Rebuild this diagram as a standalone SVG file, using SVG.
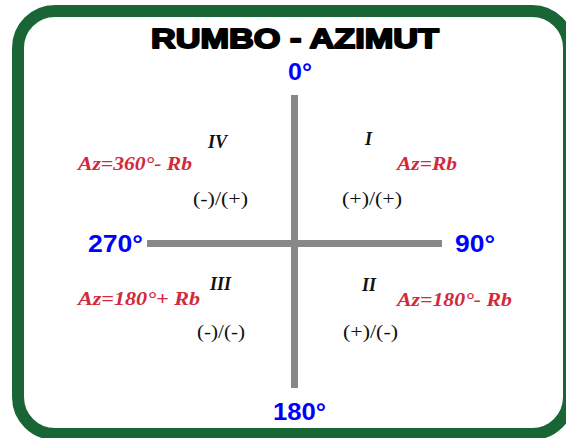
<svg xmlns="http://www.w3.org/2000/svg" width="566" height="438" viewBox="0 0 566 438">
<style>
.title{font-family:"Liberation Sans",Arial,sans-serif;font-weight:bold;font-size:28px;fill:#000;stroke:#000;stroke-width:1.9px;stroke-linejoin:round}
.deg{font-family:"Liberation Sans",Arial,sans-serif;font-weight:bold;font-size:24px;fill:#0000ff}
.az{font-family:"Liberation Serif","Times New Roman",serif;font-weight:bold;font-style:italic;font-size:18px;fill:#d22a3b}
.num{font-family:"Liberation Serif","Times New Roman",serif;font-weight:bold;font-style:italic;font-size:18px;fill:#111}
.sgn{font-family:"Liberation Serif","Times New Roman",serif;font-size:19px;fill:#111}
.axis{stroke:#888;stroke-width:7;fill:none}
</style>
<rect x="0" y="0" width="566" height="438" fill="#fff"/>
<rect x="18" y="11" width="551" height="423" rx="37" ry="37" fill="#fff" stroke="#1a6535" stroke-width="12"/>
<text class="title" x="295" y="48" text-anchor="middle" textLength="288" lengthAdjust="spacingAndGlyphs">RUMBO - AZIMUT</text>
<g id="connectors">
<line class="axis" x1="294.5" y1="95" x2="294.5" y2="388"/>
<line class="axis" x1="147" y1="243.5" x2="442" y2="243.5"/>
</g>
<g id="n0"><text class="deg" x="288" y="80" textLength="24" lengthAdjust="spacingAndGlyphs">0°</text></g>
<g id="n90"><text class="deg" x="455" y="252" textLength="40" lengthAdjust="spacingAndGlyphs">90°</text></g>
<g id="n180"><text class="deg" x="273" y="420" textLength="53" lengthAdjust="spacingAndGlyphs">180°</text></g>
<g id="n270"><text class="deg" x="88" y="252" textLength="55" lengthAdjust="spacingAndGlyphs">270°</text></g>
<g id="q1">
<text class="num" x="365" y="145">I</text>
<text class="az" x="397" y="170" textLength="60" lengthAdjust="spacingAndGlyphs">Az=Rb</text>
<text class="sgn" x="342" y="205" textLength="60" lengthAdjust="spacingAndGlyphs">(+)/(+)</text>
</g>
<g id="q2">
<text class="num" x="362" y="291">II</text>
<text class="az" x="397" y="306" textLength="115" lengthAdjust="spacingAndGlyphs">Az=180°- Rb</text>
<text class="sgn" x="343" y="338" textLength="55" lengthAdjust="spacingAndGlyphs">(+)/(-)</text>
</g>
<g id="q3">
<text class="num" x="210" y="290">III</text>
<text class="az" x="78" y="305" textLength="122" lengthAdjust="spacingAndGlyphs">Az=180°+ Rb</text>
<text class="sgn" x="197" y="338" textLength="48" lengthAdjust="spacingAndGlyphs">(-)/(-)</text>
</g>
<g id="q4">
<text class="num" x="208" y="148">IV</text>
<text class="az" x="78" y="170" textLength="114" lengthAdjust="spacingAndGlyphs">Az=360°- Rb</text>
<text class="sgn" x="193" y="205" textLength="55" lengthAdjust="spacingAndGlyphs">(-)/(+)</text>
</g>
</svg>
